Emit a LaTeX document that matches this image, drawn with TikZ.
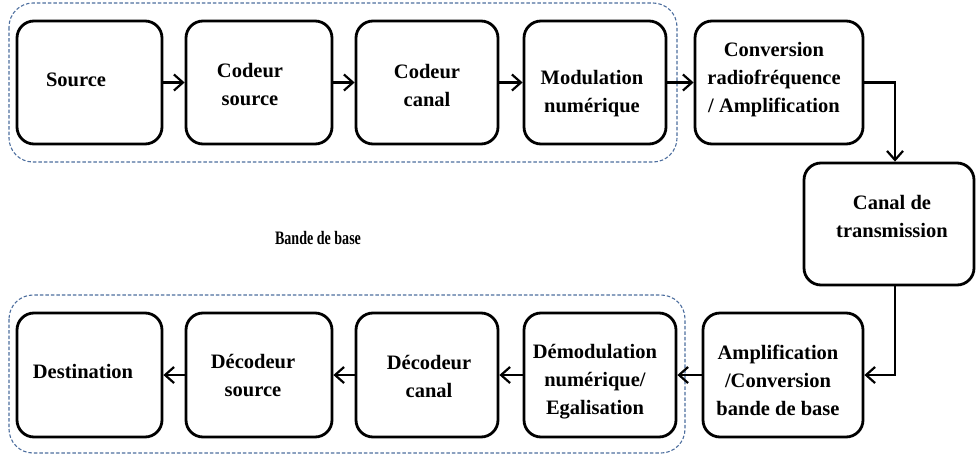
\documentclass[tikz,border=0pt]{standalone}
\usepackage{fontspec}
\setmainfont{Liberation Serif}
\usetikzlibrary{arrows.meta,calc}
\definecolor{dashblue}{HTML}{4D6E9E}
\begin{document}
\begin{tikzpicture}[x=1pt,y=-1pt,
  box/.style={draw, line width=2.8pt, rounded corners=17pt, inner sep=0pt, minimum height=123pt},
  txt/.style={font=\bfseries\fontsize{20.5}{28}\selectfont, align=center, inner sep=0pt},
  arr/.style={line width=2.2pt, -{Straight Barb[length=9pt,width=16pt]}},
  dashbox/.style={draw=dashblue, line width=1.1pt, dash pattern=on 3.5pt off 2pt, rounded corners=24pt}]
\useasboundingbox (0,0) rectangle (977,458);
% dashed groups
\draw[dashbox] (9,3) rectangle (677,162);
\draw[dashbox] (9,295) rectangle (685,453);
% top row
\node[box, minimum width=145pt] (src) at (89.5,82.5) {};
\node[box, minimum width=146pt] (cs) at (259,82.5) {};
\node[box, minimum width=142pt] (cc) at (427,82.5) {};
\node[box, minimum width=142pt] (mod) at (595,82.5) {};
\node[box, minimum width=168pt] (conv) at (779,82.5) {};
% channel
\node[box, minimum width=170pt, minimum height=122pt] (canal) at (889,224) {};
% bottom row
\node[box, minimum width=160pt, minimum height=124pt] (amp) at (783,375) {};
\node[box, minimum width=152pt, minimum height=124pt] (demod) at (600,375) {};
\node[box, minimum width=142pt, minimum height=124pt] (dcanal) at (427,375) {};
\node[box, minimum width=146pt, minimum height=124pt] (dsrc) at (259,375) {};
\node[box, minimum width=145pt, minimum height=124pt] (dest) at (89.5,375) {};
% texts
\node[txt] (src-t) at (76,80) {Source};
\node[txt] (cs-t) at (250,84.5) {Codeur\\source};
\node[txt] (cc-t) at (427,85) {Codeur\\canal};
\node[txt] (mod-t) at (592,94) {Modulation\\numérique};
\node[txt] (conv-t) at (774,80) {Conversion\\radiofréquence\\/ Amplification};
\node[txt] (canal-t) at (892,216) {Canal de\\transmission};
\node[txt] (amp-t) at (778,380) {Amplification\\/Conversion\\bande de base};
\node[txt] (demod-t) at (595,382) {Démodulation\\numérique/\\Egalisation};
\node[txt] (dcanal-t) at (429,376) {Décodeur\\canal};
\node[txt] (dsrc-t) at (253,375) {Décodeur\\source};
\node[txt] (dest-t) at (83,371) {Destination};
\node[txt] (bb) at (318,238) {\scalebox{0.74}[1]{\fontsize{19}{21}\selectfont Bande de base}};
% connectors
\draw[arr] (src.east) -- (cs.west);
\draw[arr] (cs.east) -- (cc.west);
\draw[arr] (cc.east) -- (mod.west);
\draw[arr] (mod.east) -- (conv.west);
\draw[arr] (conv.east) -| ([xshift=6pt]canal.north);
\draw[arr] ([xshift=6pt]canal.south) |- (amp.east);
\draw[arr] (amp.west) -- (demod.east);
\draw[arr] (demod.west) -- (dcanal.east);
\draw[arr] (dcanal.west) -- (dsrc.east);
\draw[arr] (dsrc.west) -- (dest.east);
\end{tikzpicture}
\end{document}
